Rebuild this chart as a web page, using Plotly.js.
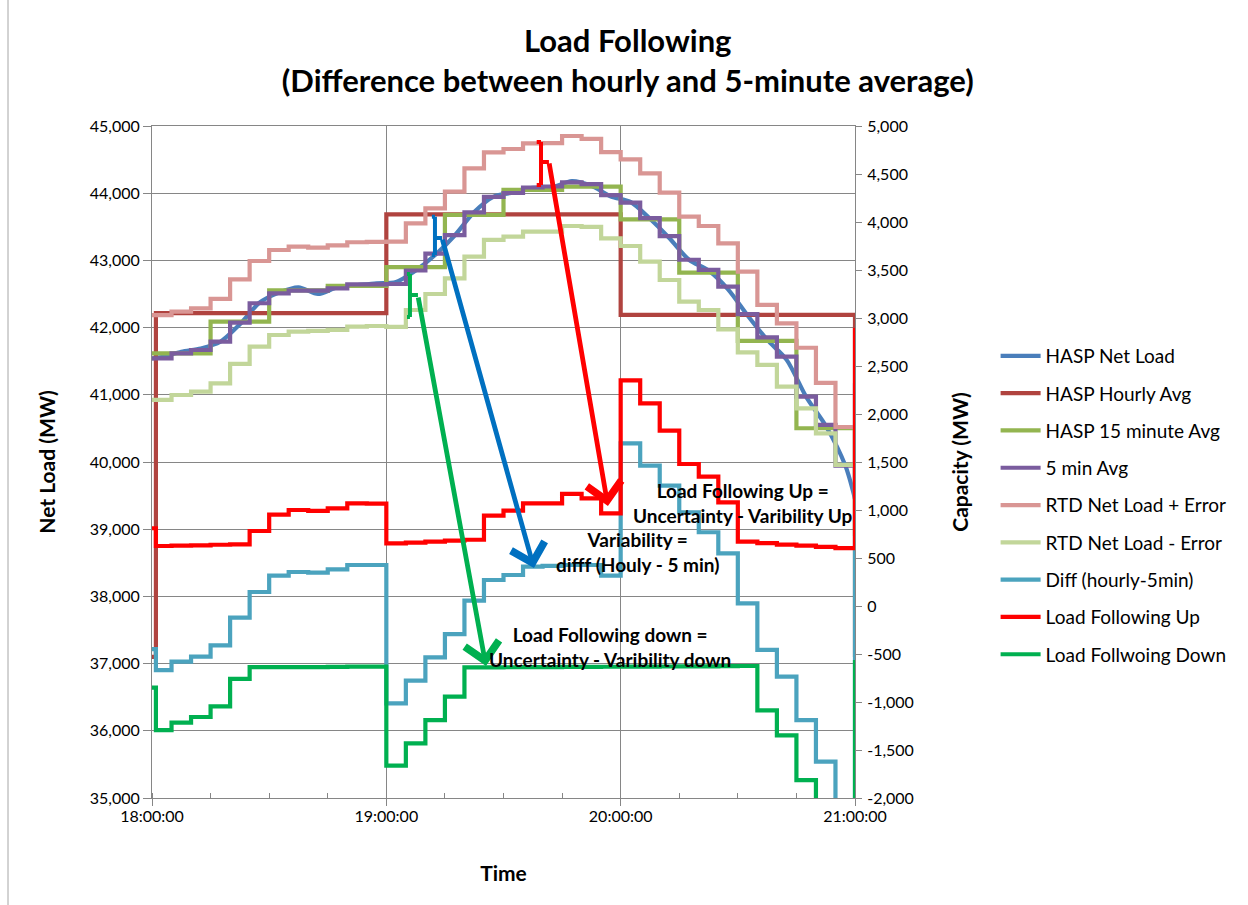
<!DOCTYPE html>
<html>
<head>
<meta charset="utf-8">
<script src="https://cdn.plot.ly/plotly-3.0.1.min.js"></script>
<style>
  html, body { margin: 0; padding: 0; background: #ffffff; }
  #chart { width: 1248px; height: 905px; }
</style>
</head>
<body>
<div id="chart"></div>
<script>
// ---------- DATA ----------
// 5-minute step series: start point, then one value per 5-minute interval, then the 21:00 end point
const stepTimes = ['18:00','18:01','18:05','18:10','18:15','18:20','18:25','18:30','18:35','18:40','18:45','18:50','18:55',
  '19:00','19:05','19:10','19:15','19:20','19:25','19:30','19:35','19:40','19:45','19:50','19:55',
  '20:00','20:05','20:10','20:15','20:20','20:25','20:30','20:35','20:40','20:45','20:50','20:55','21:00'];

const netLoadTimes = ['18:00','18:02:30','18:07:30','18:12:30','18:17:30','18:22:30','18:27:30','18:32:30','18:37:30','18:42:30','18:47:30','18:52:30','18:57:30',
  '19:02:30','19:07:30','19:12:30','19:17:30','19:22:30','19:27:30','19:32:30','19:37:30','19:42:30','19:47:30','19:52:30','19:57:30',
  '20:02:30','20:07:30','20:12:30','20:17:30','20:22:30','20:27:30','20:32:30','20:37:30','20:42:30','20:47:30','20:52:30','20:57:30','21:00'];
const haspNetLoad = [41540,41560,41640,41690,41790,42050,42370,42520,42600,42500,42600,42630,42660,
  42680,42850,43080,43370,43720,43950,44010,44080,44090,44180,44110,43950,
  43870,43620,43330,43010,42850,42570,42180,41820,41520,40970,40540,39950,39450];

const hourlyTimes = ['18:00','18:01','19:00','20:00','21:00'];
const haspHourlyAvg = [37100,42215,43685,42188,37100];

const fifteenTimes = ['18:00','18:15','18:30','18:45','19:00','19:15','19:30','19:45','20:00','20:15','20:30','20:45','21:00'];
const hasp15MinAvg = [41617,42088,42555,42620,42900,43676,44048,44097,43611,42817,41801,40502,38900];

const fiveMinAvg = [41543,41543,41617,41667,41791,42073,42362,42510,42550,42550,42585,42644,42644,
  42649,42850,43100,43375,43716,43945,44003,44085,44100,44160,44135,43970,
  43860,43630,43360,43010,42860,42610,42200,41855,41567,40972,40551,39945,39450];

const rtdPlusError = [42185,42185,42237,42287,42426,42719,42991,43155,43204,43190,43225,43270,43275,
  43280,43552,43775,44023,44370,44609,44658,44742,44745,44851,44807,44612,
  44504,44296,44008,43651,43512,43254,42832,42337,42064,41700,41176,40521,39940];

const rtdMinusError = [40923,40923,40997,41047,41171,41459,41716,41890,41940,41950,41965,42014,42024,
  42010,42262,42500,42734,43056,43304,43353,43428,43428,43512,43500,43329,
  43214,42981,42708,42386,42262,41975,41630,41444,41121,40799,40427,39956,39000];

const diffHourly5 = [-450,-667,-580,-528,-410,-122,146,316,354,347,382,427,427,
  -1014,-778,-535,-292,55,271,323,410,417,427,427,316,
  1695,1462,1253,976,768,549,28,-458,-736,-1188,-1622,-2240,2320];

const loadFollowingUp = [810,625,628,632,638,642,781,951,1000,990,1017,1069,1066,
  653,660,670,680,690,941,993,1069,1069,1167,1122,965,
  2350,2111,1826,1479,1347,1080,670,655,640,628,615,603,2896];

const loadFollowingDown = [-850,-1292,-1215,-1156,-1045,-760,-636,-636,-636,-636,-634,-632,-632,
  -1663,-1431,-1188,-945,-639,-639,-638,-637,-636,-635,-634,-633,
  -632,-631,-630,-629,-628,-627,-625,-1087,-1347,-1813,-2250,-2865,-562];

const seriesNames = ['HASP Net Load','HASP Hourly Avg','HASP 15 minute Avg','5 min Avg','RTD Net Load + Error',
  'RTD Net Load - Error','Diff (hourly-5min)','Load Following Up','Load Follwoing Down'];
const seriesColors = ['#4A7EBB','#B0433F','#93B550','#7A5C9E','#D99694','#C2D69A','#4BA3BE','#FF0000','#00B050'];

const leftTickVals = [35000,36000,37000,38000,39000,40000,41000,42000,43000,44000,45000];
const leftTickText = ['35,000','36,000','37,000','38,000','39,000','40,000','41,000','42,000','43,000','44,000','45,000'];
const rightTickVals = [-2000,-1500,-1000,-500,0,500,1000,1500,2000,2500,3000,3500,4000,4500,5000];
const rightTickText = ['-2,000','-1,500','-1,000','-500','0','500','1,000','1,500','2,000','2,500','3,000','3,500','4,000','4,500','5,000'];
const timeTickVals = ['18:00','19:00','20:00','21:00'];
const timeTickText = ['18:00:00','19:00:00','20:00:00','21:00:00'];

// annotation arrows: [tailTime, tailValue, headTime, headValue]
const arrowRed   = ['19:41:38', 44464, '19:56:44', 39345];
const arrowBlue  = ['19:14:15', 43333, '19:37:48', 38423];
const arrowGreen = ['19:08:06', 42470, '19:25:31', 36964];
// brackets at arrow tails: [xLeft, xMid, xSpurEnd, yTop, yBottom, ySpur]
const bracketRed   = ['19:38:30','19:39:36','19:41:38', 44762, 44122, 44464];
const bracketBlue  = ['19:11:40','19:12:27','19:14:15', 43650, 43080, 43333];
const bracketGreen = ['19:05:17','19:06:03','19:08:06', 42798, 42158, 42485];

// ---------- BUILD ----------
const DAY = '2000-01-01 ';
const D = t => DAY + t;
const F = 'Lato, "Open Sans", sans-serif';
const LW = 4.2;

function stepTrace(i, times, vals, axis) {
  return {
    type: 'scatter', mode: 'lines', name: seriesNames[i],
    x: times.map(D), y: vals, yaxis: axis || 'y',
    line: { color: seriesColors[i], width: LW, shape: 'hv' },
    legendgroup: 'g' + i, hoverinfo: 'skip'
  };
}

const traces = [
  { type: 'scatter', mode: 'lines', name: seriesNames[0], x: netLoadTimes.map(D), y: haspNetLoad,
    line: { color: seriesColors[0], width: LW, shape: 'spline', smoothing: 0.8 }, legendgroup: 'g0', hoverinfo: 'skip' },
  stepTrace(1, hourlyTimes, haspHourlyAvg),
  stepTrace(2, fifteenTimes, hasp15MinAvg),
  stepTrace(3, stepTimes, fiveMinAvg),
  stepTrace(4, stepTimes, rtdPlusError),
  stepTrace(5, stepTimes, rtdMinusError),
  stepTrace(6, stepTimes, diffHourly5, 'y2'),
  stepTrace(7, stepTimes, loadFollowingUp, 'y2'),
  stepTrace(8, stepTimes, loadFollowingDown, 'y2')
];

function arrowAnn(a, color) {
  return { x: D(a[2]), y: a[3], ax: D(a[0]), ay: a[1], xref: 'x', yref: 'y', axref: 'x', ayref: 'y',
    text: '', showarrow: true, arrowhead: 4, arrowsize: 1.4, arrowwidth: 4.8, arrowcolor: color, standoff: 0, startstandoff: 0 };
}
function bracketShapes(b, color) {
  const ln = { color: color, width: 4 };
  return [
    { type: 'line', xref: 'x', yref: 'y', x0: D(b[1]), x1: D(b[1]), y0: b[3], y1: b[4], line: ln },
    { type: 'line', xref: 'x', yref: 'y', x0: D(b[0]), x1: D(b[1]), y0: b[3], y1: b[3], line: ln },
    { type: 'line', xref: 'x', yref: 'y', x0: D(b[0]), x1: D(b[1]), y0: b[4], y1: b[4], line: ln },
    { type: 'line', xref: 'x', yref: 'y', x0: D(b[1]), x1: D(b[2]), y0: b[5], y1: b[5], line: ln }
  ];
}
function textAnn(t, x, y) {
  return { x: D(x), y: y, xref: 'x', yref: 'y', text: '<b>' + t + '</b>', showarrow: false,
    xanchor: 'center', yanchor: 'middle', align: 'center', font: { family: F, size: 19, color: '#000000' } };
}

const grid = '#868686';
const layout = {
  width: 1248, height: 905,
  margin: { l: 152, r: 393, t: 126, b: 107 },
  paper_bgcolor: '#ffffff', plot_bgcolor: '#ffffff',
  font: { family: F, size: 16, color: '#000000' },
  showlegend: true,
  title: {
    text: '<b>Load Following<br>(Difference between hourly and 5-minute average)</b>',
    font: { family: F, size: 31, color: '#000000' },
    x: 0.503, xanchor: 'center', xref: 'container', y: 1 - 52 / 905, yanchor: 'middle', yref: 'container'
  },
  xaxis: {
    type: 'date', range: [D('18:00'), D('21:00')],
    tickvals: timeTickVals.map(D), ticktext: timeTickText,
    showgrid: true, gridcolor: grid, gridwidth: 1,
    showline: true, linecolor: grid, linewidth: 1, mirror: true,
    ticks: 'outside', ticklen: 7, tickcolor: grid, ticklabelstandoff: -3,
    minor: { dtick: 900000, ticks: 'inside', ticklen: 5, tickcolor: grid, showgrid: false },
    tickfont: { family: F, size: 16 },
    title: { text: '<b>Time</b>', font: { family: F, size: 21 }, standoff: 42 },
    zeroline: false, fixedrange: true
  },
  yaxis: {
    range: [35000, 45000], tickvals: leftTickVals, ticktext: leftTickText,
    showgrid: true, gridcolor: grid, gridwidth: 1,
    showline: true, linecolor: grid, linewidth: 1,
    ticks: 'outside', ticklen: 8, tickcolor: grid,
    tickfont: { family: F, size: 16 },
    title: { text: '<b>Net Load (MW)</b>', font: { family: F, size: 21 }, standoff: 28 },
    zeroline: false, fixedrange: true
  },
  yaxis2: {
    overlaying: 'y', side: 'right',
    range: [-2000, 5000], tickvals: rightTickVals, ticktext: rightTickText,
    showgrid: false, showline: true, linecolor: grid, linewidth: 1,
    ticks: 'outside', ticklen: 6, tickcolor: grid, ticklabelstandoff: 2,
    tickfont: { family: F, size: 16 },
    title: { text: '<b>Capacity (MW)</b>', font: { family: F, size: 21 }, standoff: 40 },
    zeroline: false, fixedrange: true
  },
  legend: {
    x: 1.2, xanchor: 'left', y: 0.686, yanchor: 'top',
    font: { family: F, size: 19, color: '#000000' },
    bgcolor: 'rgba(0,0,0,0)', borderwidth: 0,
    traceorder: 'grouped', tracegroupgap: 9.6, itemwidth: 40
  },
  annotations: [
    arrowAnn(arrowRed, '#FF0000'),
    arrowAnn(arrowBlue, '#0070C0'),
    arrowAnn(arrowGreen, '#00B050'),
    textAnn('Load Following Up =<br>Uncertainty - Varibility Up', '20:31:18', 39390),
    textAnn('Variability =<br>difff (Houly - 5 min)', '20:04:25', 38661),
    textAnn('Load Following down =<br>Uncertainty - Varibility down', '19:57:15', 37247)
  ],
  shapes: [].concat(
    bracketShapes(bracketRed, '#FF0000'), bracketShapes(bracketBlue, '#0070C0'), bracketShapes(bracketGreen, '#00B050'),
    [{ type: 'line', xref: 'paper', yref: 'paper', x0: (8 - 152) / 703, x1: (8 - 152) / 703, y0: (798 - 905) / 672, y1: (798 - 0) / 672,
       line: { color: '#A6A6A6', width: 1 } }]
  )
};

Plotly.newPlot('chart', traces, layout, { staticPlot: true, displayModeBar: false });
</script>
</body>
</html>
